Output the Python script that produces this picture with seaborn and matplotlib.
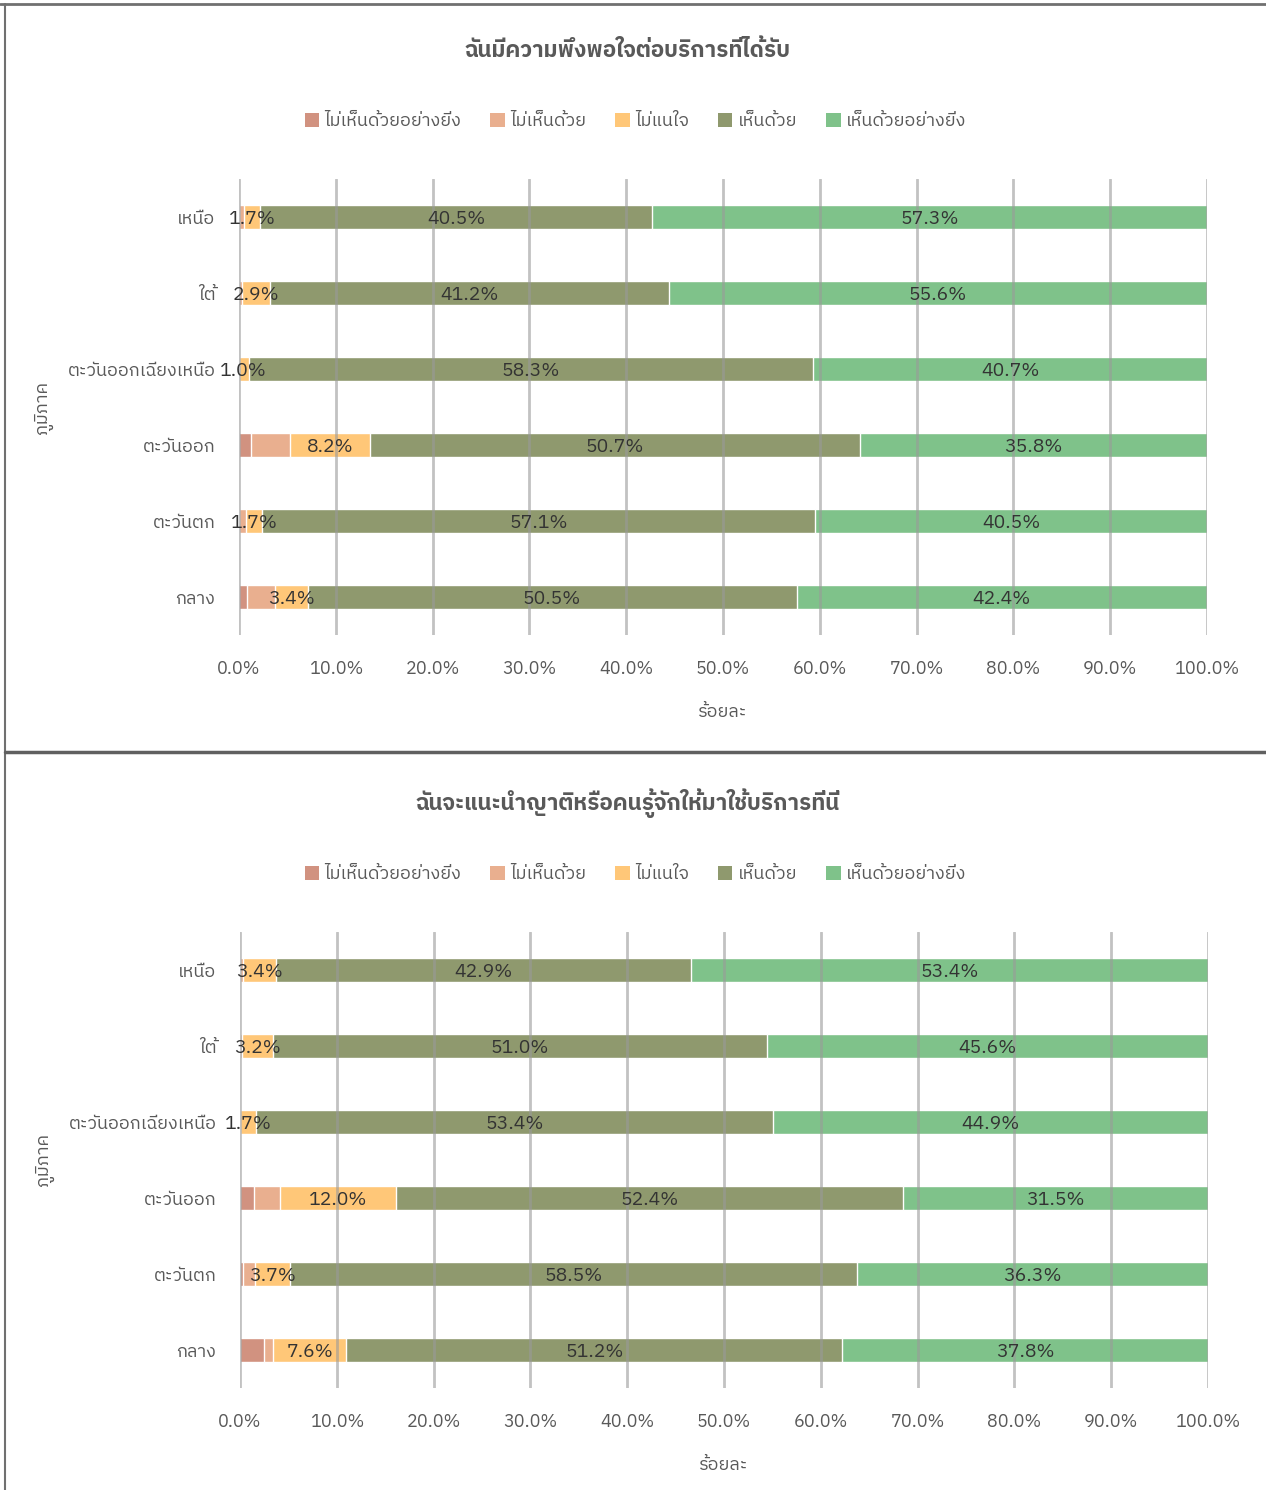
import numpy as np
import pandas as pd
import seaborn as sns
import matplotlib.pyplot as plt
from matplotlib import font_manager
from matplotlib.ft2font import FT2Font
from matplotlib.patches import Patch
from matplotlib.lines import Line2D

# ข้อมูล
regions = ['เหนือ', 'ใต้', 'ตะวันออกเฉียงเหนือ', 'ตะวันออก', 'ตะวันตก', 'กลาง']
levels = ['ไม่เห็นด้วยอย่างยิ่ง', 'ไม่เห็นด้วย', 'ไม่แนใจ', 'เห็นด้วย', 'เห็นด้วยอย่างยิ่ง']
colors = ['#D19280', '#E9AF8F', '#FFC778', '#8F996E', '#7FC28A']

title1 = 'ฉันมีความพึงพอใจต่อบริการที่ได้รับ'
s1_strong_dis = [0.0, 0.0, 0.0, 1.2, 0.0, 0.8]
s1_dis = [0.5, 0.3, 0.0, 4.1, 0.7, 2.9]
s1_unsure = [1.7, 2.9, 1.0, 8.2, 1.7, 3.4]
s1_agree = [40.5, 41.2, 58.3, 50.7, 57.1, 50.5]
s1_strong_agree = [57.3, 55.6, 40.7, 35.8, 40.5, 42.4]

title2 = 'ฉันจะแนะนำญาติหรือคนรู้จักให้มาใช้บริการที่นี่'
s2_strong_dis = [0.0, 0.0, 0.0, 1.4, 0.3, 2.5]
s2_dis = [0.3, 0.2, 0.0, 2.7, 1.2, 0.9]
s2_unsure = [3.4, 3.2, 1.7, 12.0, 3.7, 7.6]
s2_agree = [42.9, 51.0, 53.4, 52.4, 58.5, 51.2]
s2_strong_agree = [53.4, 45.6, 44.9, 31.5, 36.3, 37.8]

xticks = np.arange(0, 101, 10)

# หาฟอนต์ที่มีอักษรไทย
thai_font = None
for f in font_manager.fontManager.ttflist:
    try:
        if FT2Font(f.fname).get_char_index(0x0E01):
            thai_font = f.name
            if 'Thai' in f.name or 'Sarabun' in f.name:
                break
    except Exception:
        pass

sns.set_style('white')
plt.rcParams['font.family'] = [thai_font, 'DejaVu Sans'] if thai_font else ['DejaVu Sans']

fig = plt.figure(figsize=(12.66, 14.9), dpi=100)


def draw(ax, title, series, ytop):
    df = pd.DataFrame({lv: s for lv, s in zip(levels, series)}, index=regions)
    cum = df.cumsum(axis=1)
    for i in range(len(levels) - 1, -1, -1):
        sns.barplot(x=cum.iloc[:, i].values, y=regions, orient='h', color=colors[i],
                    saturation=1, width=0.32, ax=ax, zorder=2)
    # ป้ายข้อมูล
    for i in range(2, 5):
        for j, r in enumerate(regions):
            v = df.iloc[j, i]
            c = cum.iloc[j, i] - v / 2
            ax.text(c, j, f'{v:.1f}%', ha='center', va='center_baseline', fontsize=14,
                    color='#333333', zorder=5)
    ax.set_xlim(0, 100)
    ax.set_ylim(5.5, -0.5)
    ax.set_xticks(xticks)
    ax.set_xticklabels([f'{t:.1f}%' for t in xticks])
    ax.tick_params(axis='x', labelsize=13, colors='#595959', length=0, pad=18)
    ax.tick_params(axis='y', labelsize=13, colors='#595959', length=0, pad=17)
    ax.set_axisbelow(False)
    for x in xticks:
        ax.axvline(x, color='#9A9A9A', alpha=0.6, linewidth=2, zorder=4)
    for s in ax.spines.values():
        s.set_visible(False)
    ax.set_xlabel('ร้อยละ', fontsize=13, color='#595959', labelpad=18)
    ax.set_ylabel('ภูมิภาค', fontsize=13, color='#595959', labelpad=10)
    fig.text(0.496, 1 - ytop / 1490, title, ha='center', va='center', fontsize=16,
             fontweight='bold', color='#595959')
    handles = [Patch(facecolor=c, edgecolor='none') for c in colors]
    fig.legend(handles, levels, loc='center', ncol=5, frameon=False, fontsize=13,
               bbox_to_anchor=(0.502, 1 - (ytop + 71) / 1490), handlelength=0.8,
               handleheight=0.8, handletextpad=0.3, columnspacing=1.6,
               labelcolor='#595959')


ax1 = fig.add_axes([239 / 1266, 1 - 635 / 1490, 968 / 1266, 456 / 1490])
draw(ax1, title1, [s1_strong_dis, s1_dis, s1_unsure, s1_agree, s1_strong_agree], 50)
ax2 = fig.add_axes([240 / 1266, 1 - 1388 / 1490, 968 / 1266, 456 / 1490])
draw(ax2, title2, [s2_strong_dis, s2_dis, s2_unsure, s2_agree, s2_strong_agree], 803)

# กรอบ
fig.add_artist(Line2D([0, 1], [1 - 4 / 1490] * 2, color='#707070', linewidth=2))
fig.add_artist(Line2D([5 / 1266] * 2, [0, 1 - 4 / 1490], color='#707070', linewidth=1.5))
fig.add_artist(Line2D([5 / 1266, 1], [1 - 752 / 1490] * 2, color='#606060', linewidth=2.5))

fig.savefig('out.png', dpi=100)
